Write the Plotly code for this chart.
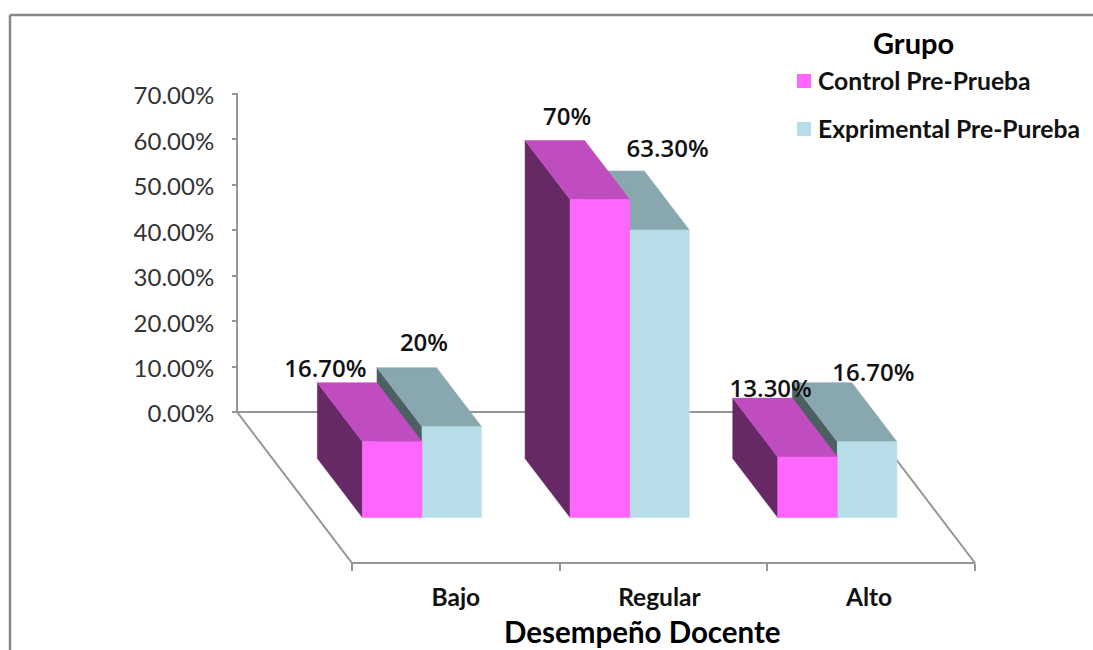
import plotly.graph_objects as go

# Chart values (percent)
categories = ["Bajo", "Regular", "Alto"]
control_values = [16.7, 70.0, 13.3]
experimental_values = [20.0, 63.3, 16.7]
control_labels = ["16.70%", "70%", "13.30%"]
experimental_labels = ["20%", "63.30%", "16.70%"]
y_ticks = [0, 10, 20, 30, 40, 50, 60, 70]
y_tick_labels = ["0.00%", "10.00%", "20.00%", "30.00%", "40.00%", "50.00%", "60.00%", "70.00%"]
series_names = ["Control Pre-Prueba", "Exprimental Pre-Pureba"]

# Canvas and axis scales
WIDTH, HEIGHT = 1093, 650
PX_PER_PCT = 318 / 70
PX_PER_CAT = 207.67
ZERO_PX_Y = 412
LEFT_PX_X = 352
FLOOR_PX_Y = 563


def dx(px):
    return px / PX_PER_CAT


def dy(px):
    return px / PX_PER_PCT


x_range = [-LEFT_PX_X / PX_PER_CAT, (WIDTH - LEFT_PX_X) / PX_PER_CAT]
y_range = [-(HEIGHT - ZERO_PX_Y) / PX_PER_PCT, ZERO_PX_Y / PX_PER_PCT]

# Oblique projection of the box depth and floor
DEPTH_X, DEPTH_Y = dx(-45), dy(59)
BASE = dy(-105.5)
FLOOR_FRONT = dy(ZERO_PX_Y - FLOOR_PX_Y)
FLOOR_DX = dx(-115)
BAR_OFFSET = 0.05
BAR_WIDTH = 0.287

CONTROL_COLORS = {"front": "#FF66FF", "top": "#C04DBF", "side": "#662966"}
EXPERIMENTAL_COLORS = {"front": "#B7DEE8", "top": "#89A7AE", "side": "#4C5F63"}
AXIS_COLOR = "#969696"
FONT = "Lato"
LABEL_FONT = "Open Sans"

fig = go.Figure()


def polygon(xs, ys, color):
    fig.add_trace(go.Scatter(
        x=xs + xs[:1], y=ys + ys[:1], mode="lines", fill="toself", fillcolor=color,
        line=dict(color=color, width=0.5), hoverinfo="skip", showlegend=False,
    ))


def box(x0, value, colors):
    x1 = x0 + BAR_WIDTH
    polygon([x0, x0, x0 + DEPTH_X, x0 + DEPTH_X],
            [BASE, BASE + value, BASE + value + DEPTH_Y, BASE + DEPTH_Y], colors["side"])
    polygon([x0, x1, x1 + DEPTH_X, x0 + DEPTH_X],
            [BASE + value, BASE + value, BASE + value + DEPTH_Y, BASE + value + DEPTH_Y], colors["top"])
    polygon([x0, x1, x1, x0], [BASE, BASE, BASE + value, BASE + value], colors["front"])


def line(xs, ys):
    fig.add_trace(go.Scatter(x=xs, y=ys, mode="lines", line=dict(color=AXIS_COLOR, width=2),
                             hoverinfo="skip", showlegend=False))


# Floor outline and value axis line
n = len(categories)
line([FLOOR_DX, 0, n, n + FLOOR_DX, FLOOR_DX], [0, FLOOR_FRONT, FLOOR_FRONT, 0, 0])
line([FLOOR_DX, FLOOR_DX], [0, y_ticks[-1]])

# Boxes: the second series sits behind the first within each group
for i in range(n):
    box(i + BAR_OFFSET + BAR_WIDTH, experimental_values[i], EXPERIMENTAL_COLORS)
    box(i + BAR_OFFSET, control_values[i], CONTROL_COLORS)

# Value labels, nudged by hand from the top corner of each box
control_nudge = [(-37, 71), (-3, 81), (-7, 66)]
experimental_nudge = [(2, 82), (38, 79), (36, 67)]
for i in range(n):
    for x0, value, text, (nx, ny) in (
        (i + BAR_OFFSET, control_values[i], control_labels[i], control_nudge[i]),
        (i + BAR_OFFSET + BAR_WIDTH, experimental_values[i], experimental_labels[i], experimental_nudge[i]),
    ):
        fig.add_trace(go.Scatter(
            x=[x0 + dx(nx)], y=[BASE + value + dy(ny)], mode="text", text=[text],
            textposition="middle center",
            textfont=dict(family=LABEL_FONT, size=24, color="#111111", weight=600),
            hoverinfo="skip", showlegend=False, cliponaxis=False,
        ))

# Key: one swatch and caption per series
swatch_x = dx(804 - LEFT_PX_X)
caption_x = dx(818 - LEFT_PX_X)
swatch_rows = [dy(ZERO_PX_Y - 81), dy(ZERO_PX_Y - 129)]
caption_drop = dy(3)
for name, colors, row in zip(series_names, (CONTROL_COLORS, EXPERIMENTAL_COLORS), swatch_rows):
    fig.add_trace(go.Scatter(
        x=[swatch_x], y=[row], mode="markers", name=name,
        marker=dict(symbol="square", size=14, color=colors["front"]),
        hoverinfo="name", showlegend=False, cliponaxis=False,
    ))
    fig.add_trace(go.Scatter(
        x=[caption_x], y=[row - caption_drop], mode="text", text=[name],
        textposition="middle right", cliponaxis=False,
        textfont=dict(family=FONT, size=24.7, weight="bold", color="#111111"),
        hoverinfo="skip", showlegend=False,
    ))

fig.update_layout(
    width=WIDTH, height=HEIGHT,
    margin=dict(l=0, r=0, t=0, b=0),
    paper_bgcolor="white", plot_bgcolor="white",
    font=dict(family=FONT, color="#111111"),
    showlegend=False,
    xaxis=dict(
        range=x_range, domain=[0, 1], anchor="free", position=(HEIGHT - FLOOR_PX_Y) / HEIGHT,
        showgrid=False, zeroline=False, showline=False,
        tickmode="array", tickvals=[0.5, 1.48, 2.49], ticktext=categories,
        ticks="", ticklabelstandoff=17,
        tickfont=dict(family=FONT, size=24.5, weight="bold", color="#111111"),
        minor=dict(tickmode="array", tickvals=list(range(n + 1)), ticks="outside",
                   ticklen=7, tickwidth=2, tickcolor=AXIS_COLOR, showgrid=False),
    ),
    yaxis=dict(
        range=y_range, domain=[0, 1], anchor="free", position=(237 + 1) / WIDTH,
        showgrid=False, zeroline=False, showline=False,
        tickmode="array", tickvals=y_ticks, ticktext=y_tick_labels,
        ticks="outside", ticklen=6, tickwidth=2, tickcolor=AXIS_COLOR,
        ticklabelstandoff=13, ticklabelshift=2,
        tickfont=dict(family=FONT, size=24, color="#333333"),
    ),
    shapes=[
        dict(type="line", xref="paper", yref="paper", x0=10 / WIDTH, x1=1, y0=1 - 15 / HEIGHT, y1=1 - 15 / HEIGHT,
             line=dict(color="#868686", width=2.5)),
        dict(type="line", xref="paper", yref="paper", x0=10 / WIDTH, x1=10 / WIDTH, y0=0, y1=1 - 15 / HEIGHT,
             line=dict(color="#868686", width=2.5)),
    ],
    annotations=[
        dict(text="<b>Desempeño Docente</b>", xref="x", yref="paper", x=dx(642 - LEFT_PX_X),
             y=1 - 631 / HEIGHT, yanchor="middle", showarrow=False,
             font=dict(family=FONT, size=29.5, color="#000000")),
        dict(text="<b>Grupo</b>", xref="x", yref="paper", x=dx(913 - LEFT_PX_X),
             y=1 - 42 / HEIGHT, yanchor="middle", showarrow=False,
             font=dict(family=FONT, size=29, color="#000000")),
    ],
)

fig.write_html("out.html")
